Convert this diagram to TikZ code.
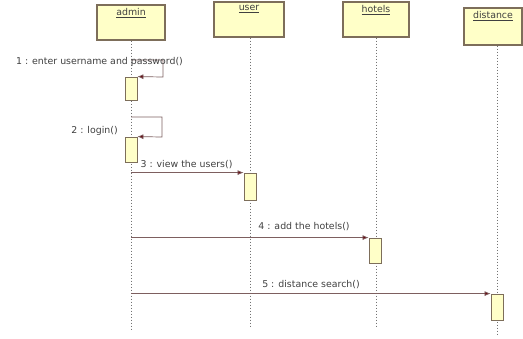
\documentclass[tikz,border=0pt]{standalone}
\usepackage{fontspec}
\setmainfont{DejaVu Sans}
\usetikzlibrary{arrows.meta}
\definecolor{objfill}{RGB}{255,255,200}
\definecolor{objline}{RGB}{125,110,90}
\definecolor{msgline}{RGB}{125,95,95}
\definecolor{tipred}{RGB}{105,10,20}
\begin{document}
\begin{tikzpicture}[x=1pt, y=-1pt,
  every node/.style={font=\fontsize{9.4}{11}\selectfont, text=black!75},
  obj/.style={draw=objline, fill=objfill, line width=1.1pt, minimum height=35pt, inner sep=0pt,
    label={[anchor=north, inner sep=4pt, text=black!75]north:\underline{#1}}},
  act/.style={draw=objline, fill=objfill, line width=0.8pt, minimum width=12pt, inner sep=0pt},
  life/.style={black!55, dotted, line width=1pt},
  msg/.style={msgline, line width=0.7pt, -{Latex[length=6pt, width=5pt, fill=tipred]}},
]
\useasboundingbox (0,0) rectangle (523,338);

% ── objects ─────────────────────────
\node[obj=admin, minimum width=68pt] (admin) at (131,22.5) {};
\node[obj=user, minimum width=70pt] (user) at (249,19.5) {};
\node[obj=hotels, minimum width=66pt] (hotels) at (376,19.5) {};
\node[obj=distance, minimum width=58pt, minimum height=37pt] (distance) at (493,26.5) {};

% ── lifelines ───────────────────────
\coordinate (adminEnd) at (131,330);
\coordinate (userEnd) at (250,328);
\coordinate (hotelsEnd) at (376,328);
\coordinate (distanceEnd) at (497,335);
\draw[life] (admin.south) -- (adminEnd);
\draw[life] (user.south-|userEnd) -- (userEnd);
\draw[life] (hotels.south) -- (hotelsEnd);
\draw[life] (distance.south-|distanceEnd) -- (distanceEnd);

% ── activations ─────────────────────
\node[act, minimum height=23pt] (act1) at (131,88.5) {};
\node[act, minimum height=25pt] (act2) at (131,149.5) {};
\node[act, minimum height=27pt] (act3) at (250,186.5) {};
\node[act, minimum height=25pt] (act4) at (375,250.5) {};
\node[act, minimum height=26pt] (act5) at (497,307) {};

% ── messages ────────────────────────
\coordinate (m1) at (131,60);
\draw[msg] (m1) -- (163,60) -- (163,77) -- (act1.north east);
\node at (99.5,62) {1 : enter username and password()};

\coordinate (m2) at (131,117);
\draw[msg] (m2) -- (162,117) -- (162,137) -- (act2.north east);
\node at (94.5,131) {2 : login()};

\draw[msg] (adminEnd|-act3.north) -- (act3.north west);
\node at (186.5,165) {3 : view the users()};

\draw[msg] (adminEnd|-act4.north) -- (act4.north west);
\node at (304,227) {4 : add the hotels()};

\draw[msg] (adminEnd|-act5.north) -- (act5.north west);
\node at (311,285) {5 : distance search()};

\end{tikzpicture}
\end{document}
